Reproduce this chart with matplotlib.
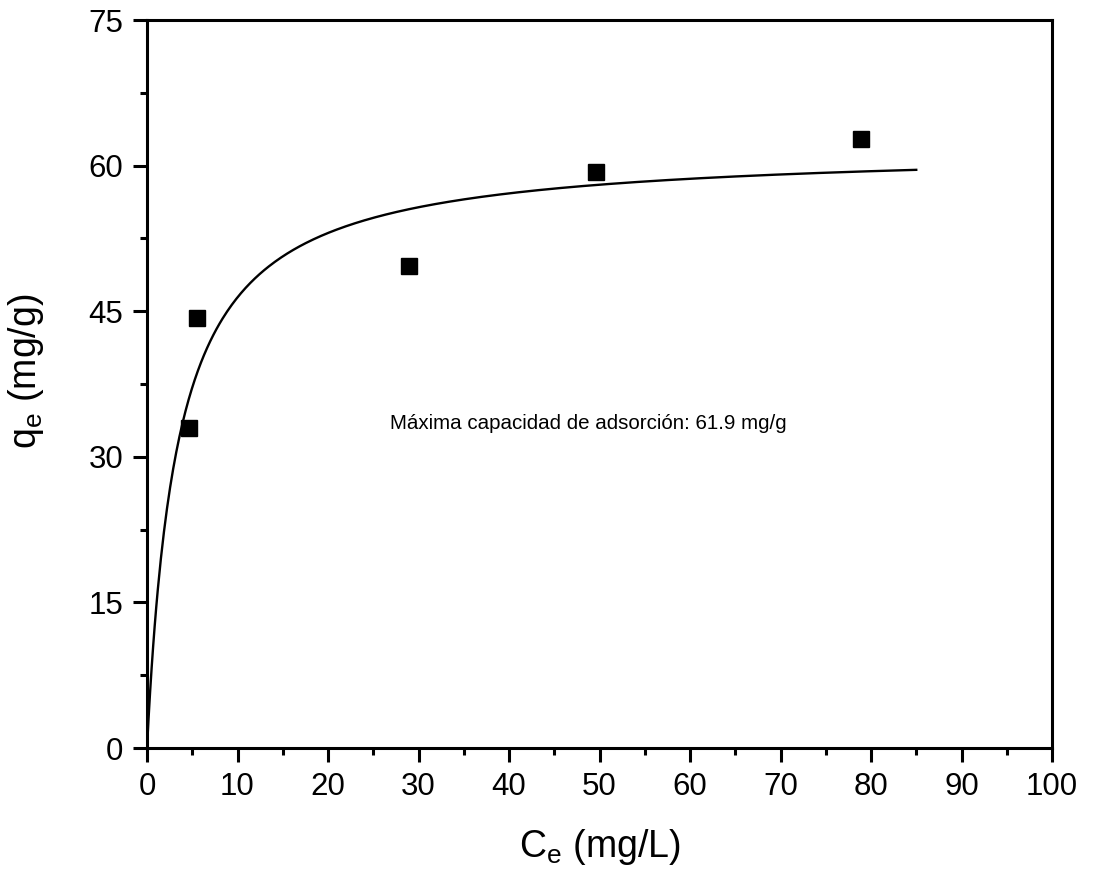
import numpy as np
import matplotlib
matplotlib.use("Agg")
import matplotlib.pyplot as plt
from matplotlib.ticker import MultipleLocator

plt.rcParams['font.family'] = ['Liberation Sans', 'DejaVu Sans']

# Experimental data
ce = [4.65, 5.5, 28.95, 49.6, 78.9]
qe = [33.0, 44.3, 49.7, 59.35, 62.7]

# Langmuir fit parameters
q_max = 61.9
k_l = 0.30
ce_fit_max = 85.0

fig = plt.figure(figsize=(10.95, 8.74), dpi=100)
ax = fig.add_axes([147/1095, 1-748/874, (1052-147)/1095, (748-20)/874])

x_fit = np.linspace(0, ce_fit_max, 500)
y_fit = q_max * k_l * x_fit / (1 + k_l * x_fit)
ax.plot(x_fit, y_fit, color='black', lw=1.7, zorder=2)
ax.plot(ce, qe, 's', color='black', markersize=11, zorder=3)

ax.text(26.9, 33.4, 'Máxima capacidad de adsorción: 61.9 mg/g', fontsize=14.8,
        ha='left', va='center')

ax.set_xlim(0, 100)
ax.set_ylim(0, 75)
ax.xaxis.set_major_locator(MultipleLocator(10))
ax.xaxis.set_minor_locator(MultipleLocator(5))
ax.yaxis.set_major_locator(MultipleLocator(15))
ax.yaxis.set_minor_locator(MultipleLocator(7.5))

for s in ax.spines.values():
    s.set_linewidth(2.2)
ax.tick_params(which='major', direction='out', length=10, width=2.2, labelsize=22.5, pad=7)
ax.tick_params(which='minor', direction='out', length=5, width=2.2)
ax.tick_params(top=False, right=False, which='both')

ax.set_xlabel('C$_\\mathregular{e}$ (mg/L)', fontsize=27, labelpad=18)
ax.set_ylabel('q$_\\mathregular{e}$ (mg/g)', fontsize=27)
ax.yaxis.set_label_coords((46 - 147) / 905, 0.518)

fig.savefig('out.png', dpi=100)
